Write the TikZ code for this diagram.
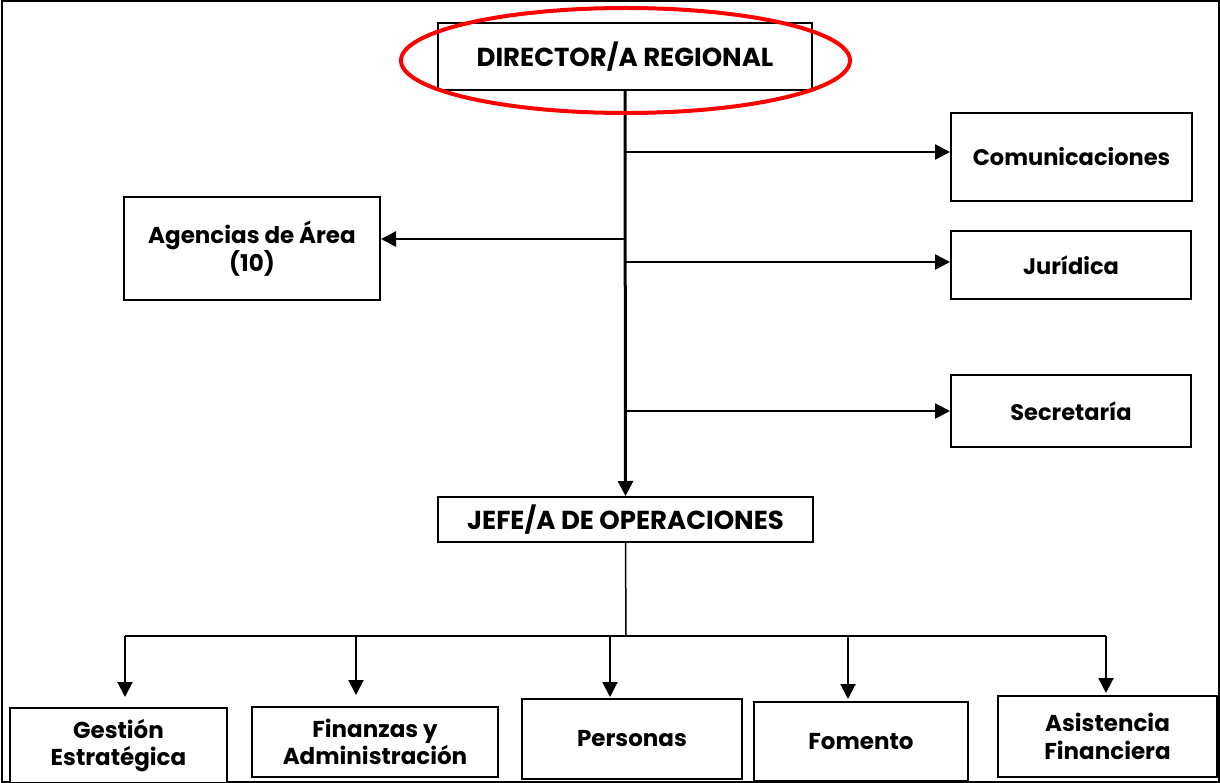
\documentclass[tikz,border=0pt]{standalone}
\usepackage{fontspec}
\setmainfont{Poppins}
\usetikzlibrary{%
    arrows.meta,%
    calc,%
    positioning%
}

\tikzset{
    unit/.style={draw=black,line width=2pt,fill=white,align=center,inner sep=0pt},
    bigtxt/.style={font=\fontsize{26}{31}\selectfont\bfseries},
    midtxt/.style={font=\fontsize{22.5}{27}\selectfont\bfseries},
    smalltxt/.style={font=\fontsize{23}{27.5}\selectfont\bfseries},
    tip/.style={-{Triangle[width=15pt,length=15pt]}},
}

\begin{document}
\begin{tikzpicture}[x=1pt,y=-1pt]
    % Frame of the chart
    \useasboundingbox (0,0) rectangle (1220,783);
    \draw[line width=2pt] (1.5,1.5) rectangle (1218.5,781.5);

    % Director and staff units
    \node[unit,bigtxt,minimum width=374pt,minimum height=67pt] (dir) at (625,56.5) {DIRECTOR/A REGIONAL};
    \node[unit,midtxt,minimum width=241pt,minimum height=88pt] (com) at (1071.5,157) {Comunicaciones};
    \node[unit,midtxt,minimum width=240pt,minimum height=68pt] (jur) at (1071,265) {Jurídica};
    \node[unit,midtxt,minimum width=240pt,minimum height=72pt] (sec) at (1071,411) {Secretaría};
    \node[unit,smalltxt,minimum width=256pt,minimum height=103pt] (age) at (252,248.5) {Agencias de Área\\(10)};

    % Head of operations
    \node[unit,bigtxt,minimum width=375pt,minimum height=45pt] (jefe) at (625.5,519.5) {JEFE/A DE OPERACIONES};

    % Operational departments
    \node[unit,smalltxt,minimum width=217pt,minimum height=75pt] (ges) at (118.5,745.5) {Gestión\\Estratégica};
    \node[unit,smalltxt,minimum width=246pt,minimum height=70pt] (fin) at (375,742) {Finanzas y\\Administración};
    \node[unit,smalltxt,minimum width=220pt,minimum height=80pt] (per) at (632,739) {Personas};
    \node[unit,smalltxt,minimum width=214pt,minimum height=79pt] (fom) at (861,741.5) {Fomento};
    \node[unit,smalltxt,minimum width=219pt,minimum height=81pt] (asi) at (1107.5,736.5) {Asistencia\\Financiera};

    % Main line from director down to operations
    \draw[tip,line width=3pt] (dir.south) -- (jefe.north);

    % Branches to the staff units
    \foreach \n/\dy in {com/5,jur/3,sec/0}%
    {%
        \draw[tip,line width=2.5pt] ([yshift=\dy pt]\n.west -| dir.south) -- ([yshift=\dy pt]\n.west);
    }
    \draw[tip,line width=2.5pt] ([yshift=9.5pt]age.east -| dir.south) -- ([yshift=9.5pt]age.east);

    % Bus below the head of operations
    \coordinate (bus) at (626,636);
    \draw[line width=1.5pt] (jefe.south) -- (bus);
    \foreach \n/\dx in {ges/6.5,fin/-19,per/-22,fom/-13,asi/-1.5}%
    {%
        \coordinate (\n-in) at ([xshift=\dx pt]\n.north);
    }
    \draw[line width=2pt] (ges-in |- bus) -- (asi-in |- bus);
    \foreach \n/\gap in {ges/10,fin/11,per/1,fom/2,asi/2}%
    {%
        \draw[tip,line width=2pt,shorten >=\gap pt] (\n-in |- bus) -- (\n-in);
    }

    % Highlight of the director
    \coordinate (ring) at (625.5,60.5);
    \draw[red,line width=4pt] (ring) ellipse [x radius=224.5,y radius=52.5];
\end{tikzpicture}
\end{document}
